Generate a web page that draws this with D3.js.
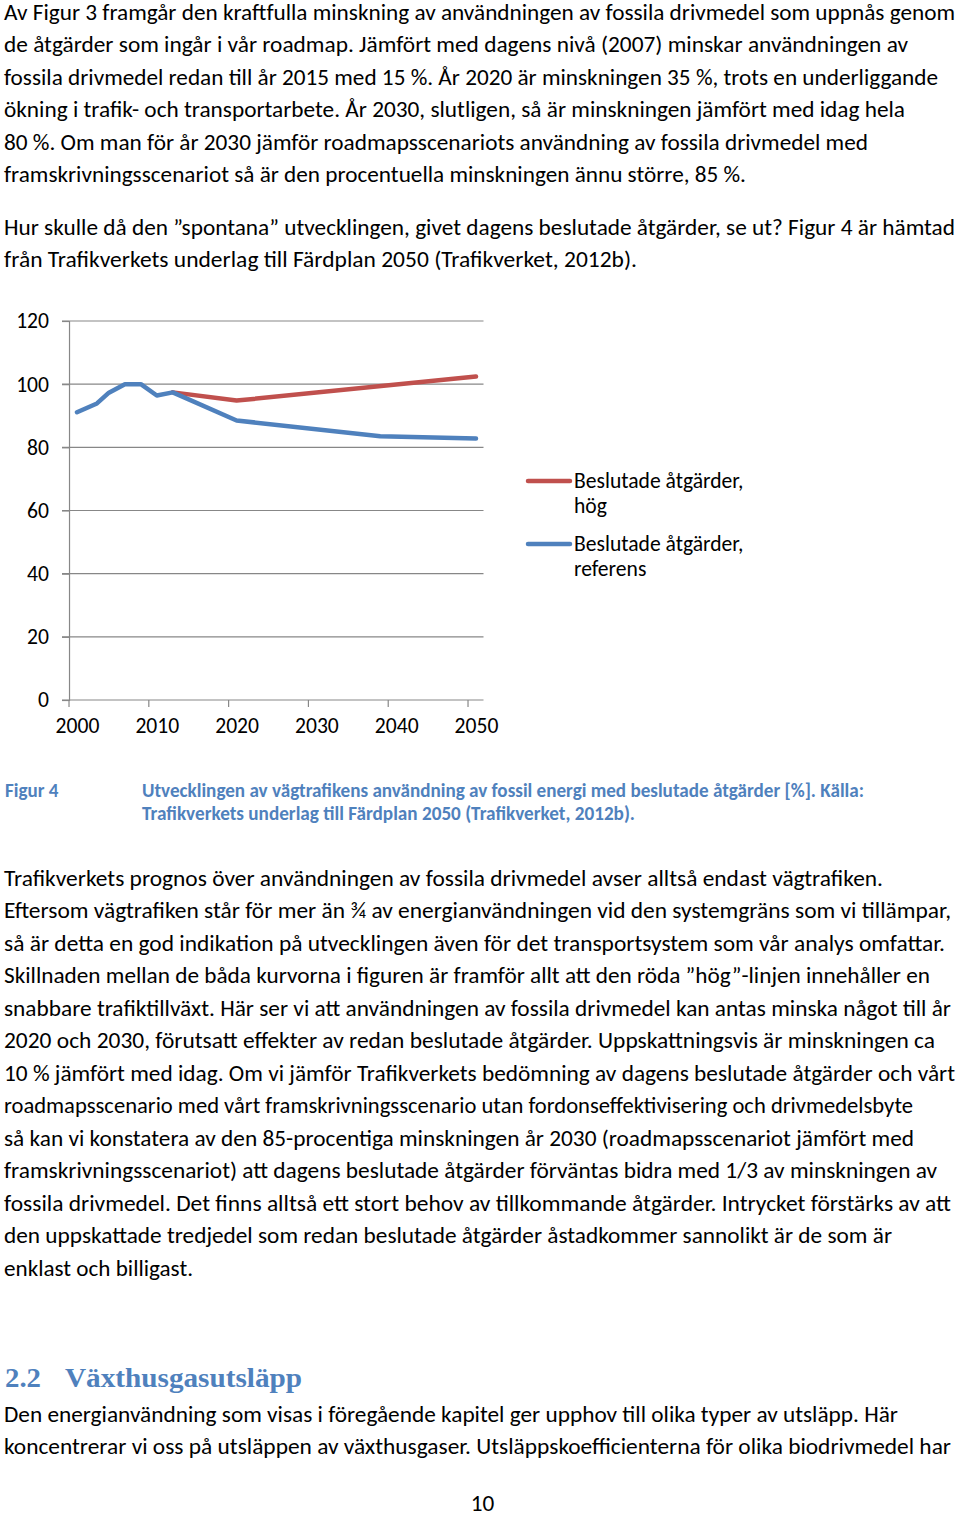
<!DOCTYPE html>
<html>
<head>
<meta charset="utf-8">
<script src="https://cdn.jsdelivr.net/npm/d3@7"></script>
<style>
html,body{margin:0;padding:0;background:#fff;}
svg{display:block;}
</style>
</head>
<body>
<script>
// ---------- chart data ----------
const histYears  = [2000, 2002.5, 2004, 2006, 2008, 2010, 2012];
const histValues = [91.1, 93.9, 97.3, 100, 100, 96.4, 97.4];
const hogYears   = [2012, 2020, 2050];
const hogValues  = [97.4, 94.8, 102.4];
const refYears   = [2012, 2020, 2038, 2050];
const refValues  = [97.4, 88.5, 83.5, 82.8];
const yTicks = [0, 20, 40, 60, 80, 100, 120];
const xTicks = [2000, 2010, 2020, 2030, 2040, 2050];
const seriesNames = ["Beslutade åtgärder,|hög", "Beslutade åtgärder,|referens"];
const seriesColors = ["#C0504D", "#4F81BD"];

// ---------- page text ----------
const para1 = [
 "Av Figur 3 framgår den kraftfulla minskning av användningen av fossila drivmedel som uppnås genom",
 "de åtgärder som ingår i vår roadmap. Jämfört med dagens nivå (2007) minskar användningen av",
 "fossila drivmedel redan till år 2015 med 15 %. År 2020 är minskningen 35 %, trots en underliggande",
 "ökning i trafik- och transportarbete. År 2030, slutligen, så är minskningen jämfört med idag hela",
 "80 %. Om man för år 2030 jämför roadmapsscenariots användning av fossila drivmedel med",
 "framskrivningsscenariot så är den procentuella minskningen ännu större, 85 %."
];
const para1Right = [955, 908, 938, 905, 868, 746];
const para2 = [
 "Hur skulle då den ”spontana” utvecklingen, givet dagens beslutade åtgärder, se ut? Figur 4 är hämtad",
 "från Trafikverkets underlag till Färdplan 2050 (Trafikverket, 2012b)."
];
const para2Right = [955, 637];
const para3 = [
 "Trafikverkets prognos över användningen av fossila drivmedel avser alltså endast vägtrafiken.",
 "Eftersom vägtrafiken står för mer än ¾ av energianvändningen vid den systemgräns som vi tillämpar,",
 "så är detta en god indikation på utvecklingen även för det transportsystem som vår analys omfattar.",
 "Skillnaden mellan de båda kurvorna i figuren är framför allt att den röda ”hög”-linjen innehåller en",
 "snabbare trafiktillväxt. Här ser vi att användningen av fossila drivmedel kan antas minska något till år",
 "2020 och 2030, förutsatt effekter av redan beslutade åtgärder. Uppskattningsvis är minskningen ca",
 "10 % jämfört med idag. Om vi jämför Trafikverkets bedömning av dagens beslutade åtgärder och vårt",
 "roadmapsscenario med vårt framskrivningsscenario utan fordonseffektivisering och drivmedelsbyte",
 "så kan vi konstatera av den 85-procentiga minskningen år 2030 (roadmapsscenariot jämfört med",
 "framskrivningsscenariot) att dagens beslutade åtgärder förväntas bidra med 1/3 av minskningen av",
 "fossila drivmedel. Det finns alltså ett stort behov av tillkommande åtgärder. Intrycket förstärks av att",
 "den uppskattade tredjedel som redan beslutade åtgärder åstadkommer sannolikt är de som är",
 "enklast och billigast."
];
const para3Right = [883, 951, 945, 930, 951, 935, 955, 913, 914, 937, 951, 892, 193];
const para4 = [
 "Den energianvändning som visas i föregående kapitel ger upphov till olika typer av utsläpp. Här",
 "koncentrerar vi oss på utsläppen av växthusgaser. Utsläppskoefficienterna för olika biodrivmedel har"
];
const para4Right = [898, 951];
const captionLabel = "Figur 4";
const captionLines = [
 "Utvecklingen av vägtrafikens användning av fossil energi med beslutade åtgärder [%]. Källa:",
 "Trafikverkets underlag till Färdplan 2050 (Trafikverket, 2012b)."
];
const headingNum = "2.2";
const headingText = "Växthusgasutsläpp";
const pageNum = "10";

// ---------- setup ----------
const W = 960, H = 1514;
const FONT = "Carlito, Calibri, Lato, sans-serif";
const svg = d3.select("body").append("svg").attr("width", W).attr("height", H)
  .attr("viewBox", `0 0 ${W} ${H}`);
svg.append("rect").attr("width", W).attr("height", H).attr("fill", "#fff");

const probe = svg.append("text").attr("font-family", FONT).attr("font-size", 20).text(para1[0]);
const base = 20 * 951 / probe.node().getComputedTextLength();
probe.remove();

function block(lines, rights, y0, step, x0) {
  lines.forEach((t, i) => {
    const el = svg.append("text")
      .attr("x", x0).attr("y", y0 + i * step)
      .attr("font-family", FONT).attr("font-size", base)
      .attr("fill", "#000").text(t);
    const w = el.node().getComputedTextLength();
    const target = rights[i] - x0;
    if (Math.abs(w - target) / target < 0.06) {
      el.attr("textLength", target).attr("lengthAdjust", "spacingAndGlyphs");
    }
  });
}
block(para1, para1Right, 19.5, 32.5, 4);
block(para2, para2Right, 234.5, 32.5, 4);
block(para3, para3Right, 885.5, 32.5, 4);
block(para4, para4Right, 1421.7, 32, 4);

// ---------- chart ----------
const x = d3.scaleLinear().domain([2000, 2050]).range([77, 476]);
const y = d3.scaleLinear().domain([0, 120]).range([700, 321]);
const gridL = 62, gridR = 483.5;
const axisColor = "#878787";
const labelSize = base * 0.93;
const chart = svg.append("g");

chart.append("g").selectAll("line").data(yTicks.filter(v => v > 0)).join("line")
  .attr("x1", gridL).attr("x2", gridR)
  .attr("y1", d => y(d)).attr("y2", d => y(d))
  .attr("stroke", axisColor).attr("stroke-width", 1.2);

const yAxis = chart.append("g").attr("transform", `translate(${x(1999)},0)`)
  .call(d3.axisLeft(y).tickValues(yTicks).tickSize(x(1999) - gridL).tickPadding(13));
yAxis.select(".domain").attr("stroke", axisColor).attr("stroke-width", 1.2);
yAxis.selectAll(".tick line").attr("stroke", axisColor).attr("stroke-width", 1.2);
yAxis.selectAll("text").attr("font-family", FONT).attr("font-size", labelSize).attr("fill", "#000");

const xAxis = chart.append("g").attr("transform", `translate(0,${y(0)})`)
  .call(d3.axisBottom(x).tickValues(xTicks).tickFormat(d3.format("d")).tickSize(0).tickPadding(18));
xAxis.select(".domain").remove();
xAxis.selectAll("text").attr("font-family", FONT).attr("font-size", labelSize).attr("fill", "#000");
chart.append("line").attr("x1", gridL).attr("x2", gridR).attr("y1", y(0)).attr("y2", y(0))
  .attr("stroke", axisColor).attr("stroke-width", 1.2);
chart.append("g").selectAll("line").data(xTicks).join("line")
  .attr("x1", d => x(d - 1)).attr("x2", d => x(d - 1))
  .attr("y1", y(0)).attr("y2", y(0) + 7)
  .attr("stroke", axisColor).attr("stroke-width", 1.2);

const line = d3.line().x(d => x(d[0])).y(d => y(d[1]));
const hogData = hogYears.map((yr, i) => [yr, hogValues[i]]);
const refData = histYears.map((yr, i) => [yr, histValues[i]])
  .concat(refYears.slice(1).map((yr, i) => [yr, refValues[i + 1]]));
chart.append("path").datum(hogData).attr("d", line).attr("fill", "none")
  .attr("stroke", seriesColors[0]).attr("stroke-width", 4.5)
  .attr("stroke-linejoin", "round").attr("stroke-linecap", "round");
chart.append("path").datum(refData).attr("d", line).attr("fill", "none")
  .attr("stroke", seriesColors[1]).attr("stroke-width", 4.5)
  .attr("stroke-linejoin", "round").attr("stroke-linecap", "round");

const legY = [481, 544];
seriesNames.forEach((n, i) => {
  const g = chart.append("g");
  g.append("line").attr("x1", 528).attr("x2", 570).attr("y1", legY[i]).attr("y2", legY[i])
    .attr("stroke", seriesColors[i]).attr("stroke-width", 4.5).attr("stroke-linecap", "round");
  n.split("|").forEach((t, j) => {
    g.append("text").attr("x", 574).attr("y", legY[i] + 6.5 + j * 25.5)
      .attr("font-family", FONT).attr("font-size", labelSize).attr("fill", "#000").text(t);
  });
});

const capSize = base * 0.82;
svg.append("text").attr("x", 5).attr("y", 797).attr("font-family", FONT).attr("font-weight", "bold")
  .attr("font-size", capSize).attr("fill", "#4F81BD").text(captionLabel);
const capRights = [864, 635];
captionLines.forEach((t, i) => {
  const el = svg.append("text").attr("x", 142).attr("y", 797 + i * 22.5).attr("font-family", FONT)
    .attr("font-weight", "bold").attr("font-size", capSize).attr("fill", "#4F81BD").text(t);
  const w = el.node().getComputedTextLength();
  const target = capRights[i] - 142;
  if (Math.abs(w - target) / target < 0.08) el.attr("textLength", target).attr("lengthAdjust", "spacingAndGlyphs");
});

const hFont = "'Liberation Serif', 'DejaVu Serif', serif";
svg.append("text").attr("x", 5).attr("y", 1387).attr("font-family", hFont).attr("font-weight", "bold")
  .attr("font-size", 27).attr("fill", "#4F81BD").attr("textLength", 36).attr("lengthAdjust", "spacingAndGlyphs")
  .text(headingNum);
svg.append("text").attr("x", 65).attr("y", 1387).attr("font-family", hFont).attr("font-weight", "bold")
  .attr("font-size", 27).attr("fill", "#4F81BD").attr("textLength", 237).attr("lengthAdjust", "spacingAndGlyphs")
  .text(headingText);

svg.append("text").attr("x", 482.5).attr("y", 1510.5).attr("text-anchor", "middle")
  .attr("font-family", FONT).attr("font-size", base).attr("fill", "#000").text(pageNum);
</script>
</body>
</html>
